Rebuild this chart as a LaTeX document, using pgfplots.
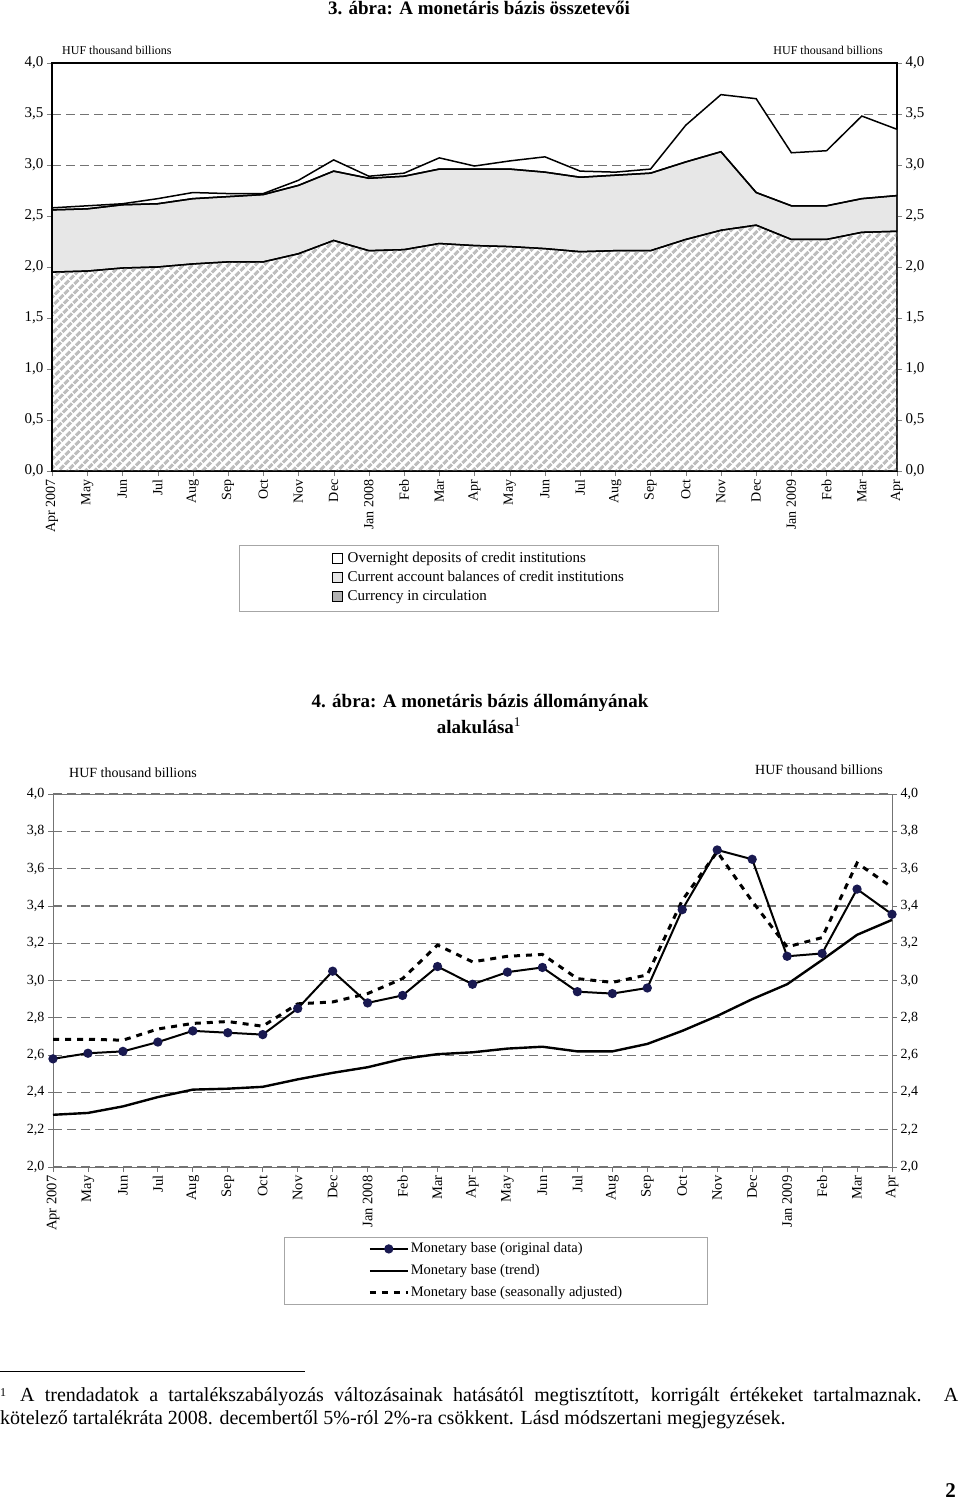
\documentclass[border=0pt]{standalone}
\usepackage{fontspec}
\setmainfont{Liberation Serif}
\usepackage{pgfplots}
\usepackage{pgfplotstable}
\pgfplotsset{compat=1.18}
\usetikzlibrary{patterns.meta}

\definecolor{navy}{RGB}{25,25,80}
\definecolor{gridgray}{RGB}{115,115,115}

% cumulative levels of the monetary base components (HUF thousand billions)
\pgfplotstableread{
m cur mid top
0 1.95 2.56 2.58
1 1.96 2.57 2.60
2 1.99 2.61 2.62
3 2.00 2.62 2.67
4 2.03 2.67 2.73
5 2.05 2.69 2.72
6 2.05 2.71 2.72
7 2.13 2.80 2.85
8 2.26 2.94 3.05
9 2.16 2.87 2.89
10 2.17 2.89 2.92
11 2.23 2.96 3.07
12 2.21 2.96 2.99
13 2.20 2.96 3.04
14 2.18 2.93 3.08
15 2.15 2.88 2.94
16 2.16 2.90 2.93
17 2.16 2.92 2.96
18 2.27 3.03 3.39
19 2.36 3.13 3.69
20 2.41 2.73 3.65
21 2.27 2.60 3.12
22 2.27 2.60 3.14
23 2.34 2.67 3.48
24 2.35 2.70 3.35
}\compdata

% monetary base: original, trend, seasonally adjusted
\pgfplotstableread{
m orig trend sa
0 2.58 2.28 2.685
1 2.61 2.29 2.685
2 2.62 2.325 2.68
3 2.67 2.375 2.74
4 2.73 2.415 2.77
5 2.72 2.42 2.78
6 2.71 2.43 2.755
7 2.85 2.47 2.875
8 3.05 2.505 2.885
9 2.88 2.535 2.93
10 2.92 2.58 3.01
11 3.075 2.605 3.19
12 2.98 2.615 3.10
13 3.045 2.635 3.13
14 3.07 2.645 3.14
15 2.94 2.62 3.01
16 2.93 2.62 2.99
17 2.96 2.66 3.03
18 3.38 2.73 3.43
19 3.70 2.81 3.69
20 3.65 2.90 3.425
21 3.13 2.98 3.18
22 3.145 3.11 3.23
23 3.49 3.245 3.63
24 3.355 3.325 3.50
}\basedata

\newcommand{\monthlabels}{Apr 2007, May, Jun, Jul, Aug, Sep, Oct, Nov, Dec, Jan 2008, Feb, Mar, Apr, May, Jun, Jul, Aug, Sep, Oct, Nov, Dec, Jan 2009, Feb, Mar, Apr}

\pgfplotsset{
  hufnum/.style={
    /pgf/number format/fixed, /pgf/number format/fixed zerofill,
    /pgf/number format/precision=1, /pgf/number format/use comma,
    /pgf/number format/assume math mode=true},
  box3/.style={at={(52pt,-471pt)}, anchor=south west,
    scale only axis, width=845pt, height=408pt,
    xmin=0, xmax=24, ymin=0, ymax=4,
    ytick={0,0.5,1,1.5,2,2.5,3,3.5,4}},
  box4/.style={at={(53pt,-1167pt)}, anchor=south west,
    scale only axis, width=839pt, height=373pt,
    xmin=0, xmax=24, ymin=2, ymax=4,
    ytick={2,2.2,2.4,2.6,2.8,3,3.2,3.4,3.6,3.8,4}},
  sqimg/.style={legend image code/.code={%
    \draw[black, line width=0.6pt, fill=#1] (0pt,-4pt) rectangle (9.5pt,5.5pt);
    \path (14pt,0pt);}},
}

\begin{document}
\begin{tikzpicture}
\useasboundingbox (0pt,0pt) rectangle (960pt,-1501pt);

% ---------------- chart 3 ----------------
\node[anchor=base, font=\bfseries\fontsize{19}{22}\selectfont] at (479pt,-15pt)
  {3. ábra: A monetáris bázis összetevői};
\node[anchor=base west, font=\fontsize{12}{14}\selectfont, inner sep=0] at (62pt,-55pt) {HUF thousand billions};
\node[anchor=base east, font=\fontsize{12}{14}\selectfont, inner sep=0] at (883pt,-55pt) {HUF thousand billions};

% right-hand tick labels (drawn first, under everything)
\begin{axis}[box3,
  ymajorgrids=false, xmajorgrids=false,
  hide x axis, axis y line*=right,
  tick align=outside, major tick length=5pt,
  axis line style={black, line width=1.3pt},
  yticklabel style={font=\fontsize{15}{17}\selectfont},
  hufnum,
]
\end{axis}

% grid only, drawn before the areas so that they cover it
\begin{axis}[box3,
  xtick=\empty, yticklabels={}, major tick length=0pt,
  axis line style={draw=none},
  ymajorgrids, grid style={gridgray, dash pattern=on 9pt off 5pt, line width=1pt},
]
\end{axis}

\begin{axis}[box3,
  ymajorgrids=false, xmajorgrids=false,
  xtick={0,...,24}, xticklabels/.expand once=\monthlabels,
  xtick pos=bottom, ytick pos=left,
  tick align=outside, major tick length=5pt,
  axis line style={black, line width=1.3pt},
  xticklabel style={rotate=90, anchor=east, font=\fontsize{14}{16}\selectfont},
  yticklabel style={font=\fontsize{15}{17}\selectfont},
  hufnum,
  legend cell align=left,
  legend style={at={(0.5047,-0.181)}, anchor=north, draw=gray!70, line width=0.8pt,
    inner xsep=93pt, inner ysep=6pt, row sep=3pt,
    font=\fontsize{15}{17}\selectfont,
    nodes={inner sep=1pt, text height=10.5pt, text depth=3.5pt}},
]
\addlegendimage{sqimg=white}
\addlegendentry{Overnight deposits of credit institutions}
\addlegendimage{sqimg=gray!20}
\addlegendentry{Current account balances of credit institutions}
\addlegendimage{sqimg=black!30}
\addlegendentry{Currency in circulation}
\addplot[forget plot, draw=black, line width=1.5pt, fill=white]
  table[x=m, y=top]{\compdata} \closedcycle;
\addplot[forget plot, draw=black, line width=1.5pt, fill=white,
  postaction={pattern={Dots[distance=2pt, radius=0.55pt]}, pattern color=gray!80}]
  table[x=m, y=mid]{\compdata} \closedcycle;
\addplot[forget plot, draw=black, line width=1.5pt, fill=white,
  postaction={pattern={Lines[angle=45, distance=6.4pt, line width=3.4pt]}, pattern color=black!26}]
  table[x=m, y=cur]{\compdata} \closedcycle;
\end{axis}

% ---------------- chart 4 ----------------
\node[anchor=base, font=\bfseries\fontsize{19}{22}\selectfont] at (480pt,-707pt)
  {4. ábra: A monetáris bázis állományának};
\node[anchor=base, font=\bfseries\fontsize{19}{22}\selectfont] at (479pt,-733pt)
  {alakulása\textsuperscript{\mdseries 1}};
\node[anchor=base west, font=\fontsize{14}{16}\selectfont, inner sep=0] at (69pt,-777pt) {HUF thousand billions};
\node[anchor=base east, font=\fontsize{14}{16}\selectfont, inner sep=0] at (883pt,-774pt) {HUF thousand billions};

% right-hand tick labels
\begin{axis}[box4,
  ymajorgrids=false, xmajorgrids=false,
  hide x axis, axis y line*=right,
  tick align=outside, major tick length=5pt,
  axis line style={gridgray, line width=1pt},
  tick style={gridgray, line width=0.8pt},
  yticklabel style={font=\fontsize{14}{16}\selectfont},
  hufnum,
]
\end{axis}

\begin{axis}[box4,
  clip=false,
  xtick={0,...,24}, xticklabels/.expand once=\monthlabels,
  xtick pos=bottom, ytick pos=left,
  tick align=outside, major tick length=5pt,
  axis line style={gridgray, line width=1pt},
  tick style={gridgray, line width=0.8pt},
  ymajorgrids, grid style={gridgray, dash pattern=on 9pt off 5pt, line width=1.2pt},
  xticklabel style={rotate=90, anchor=east, font=\fontsize{14.5}{16}\selectfont},
  yticklabel style={font=\fontsize{14}{16}\selectfont},
  hufnum,
  reverse legend, legend cell align=left,
  legend image code/.code={\draw[mark repeat=2, mark phase=2, #1]
    plot coordinates {(0pt,0pt) (19pt,0pt) (38pt,0pt)};},
  legend style={at={(0.528,-0.1877)}, anchor=north, draw=gray!70, line width=0.8pt,
    inner xsep=84pt, inner ysep=3pt, row sep=5pt,
    font=\fontsize{14.5}{16}\selectfont,
    nodes={inner sep=1.5pt, text height=11pt, text depth=3pt}},
]
\addplot[black, line width=3pt, dash pattern=on 6pt off 6pt]
  table[x=m, y=sa]{\basedata};
\addlegendentry{Monetary base (seasonally adjusted)}
\addplot[black, line width=2.4pt]
  table[x=m, y=trend]{\basedata};
\addlegendentry{Monetary base (trend)}
\addplot[black, line width=2pt, mark=*, mark size=3.6pt,
  mark options={solid, fill=navy, draw=navy}]
  table[x=m, y=orig]{\basedata};
\addlegendentry{Monetary base (original data)}
\end{axis}

% ---------------- footnote ----------------
\draw[line width=0.8pt] (0pt,-1371pt) -- (305pt,-1371pt);
\node[anchor=base west, inner sep=0, font=\fontsize{20}{24}\selectfont] at (0pt,-1401pt)
  {\makebox[958pt][s]{\raisebox{0.45ex}{\fontsize{12}{13}\selectfont 1}\hspace{14pt}A trendadatok a tartalékszabályozás változásainak hatásától megtisztított, korrigált értékeket tartalmaznak. A}};
\node[anchor=base west, inner sep=0, font=\fontsize{20}{24}\selectfont] at (0pt,-1424pt)
  {kötelező tartalékráta 2008. decembertől 5\%-ról 2\%-ra csökkent. Lásd módszertani megjegyzések.};
\node[anchor=base east, inner sep=0, font=\bfseries\fontsize{21}{24}\selectfont] at (956pt,-1497pt) {2};
\end{tikzpicture}
\end{document}
